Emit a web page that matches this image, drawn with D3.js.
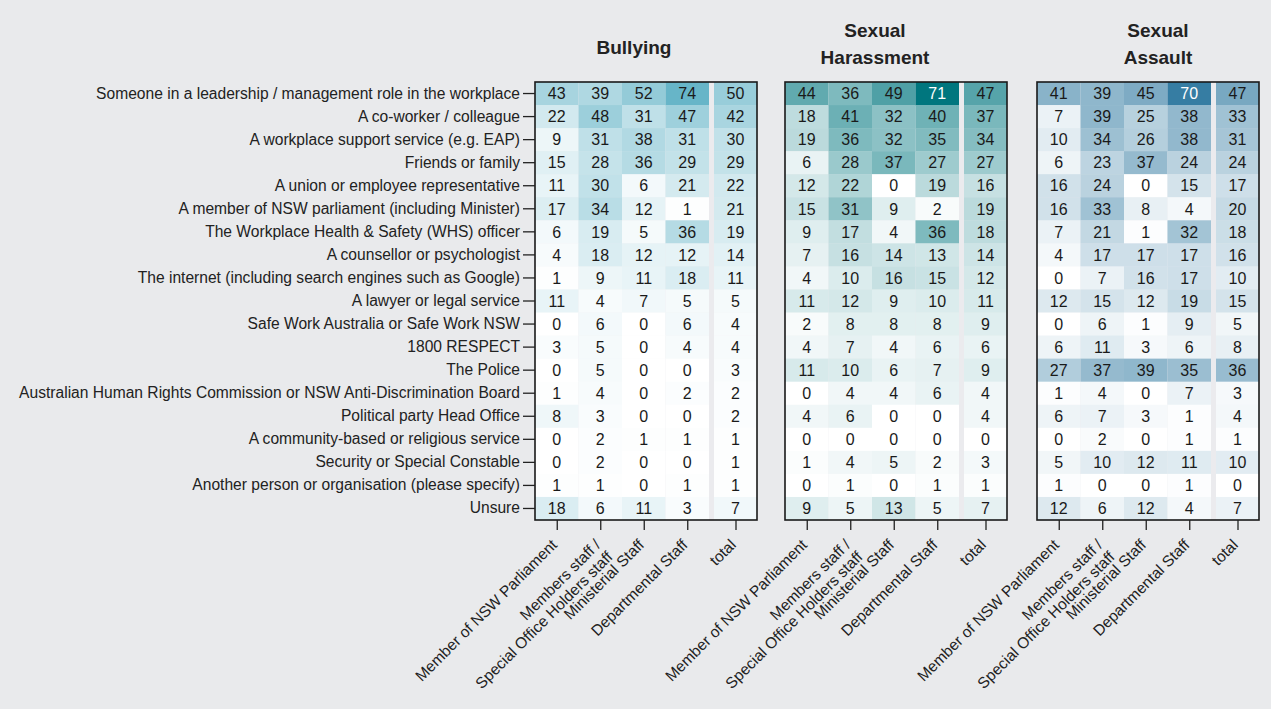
<!DOCTYPE html>
<html>
<head>
<meta charset="utf-8">
<script src="https://cdn.jsdelivr.net/npm/d3@7"></script>
<style>
  body { margin: 0; background: #e9eaec; }
  svg { display: block; font-family: "Liberation Sans", Arial, sans-serif; }
  .axis text { font-size: 15.6px; fill: #222; }
  .x-axis text { font-size: 15.5px; }
  .axis line { stroke: #222; stroke-width: 1.3; }
  .cell-label { font-size: 16px; }
  .panel-title { font-size: 19px; font-weight: bold; fill: #222; }
</style>
</head>
<body>
<div id="chart"></div>
<script>
// sources of support (rows)
var sources = [
    "Someone in a leadership / management role in the workplace",
    "A co-worker / colleague",
    "A workplace support service (e.g. EAP)",
    "Friends or family",
    "A union or employee representative",
    "A member of NSW parliament (including Minister)",
    "The Workplace Health & Safety (WHS) officer",
    "A counsellor or psychologist",
    "The internet (including search engines such as Google)",
    "A lawyer or legal service",
    "Safe Work Australia or Safe Work NSW",
    "1800 RESPECT",
    "The Police",
    "Australian Human Rights Commission or NSW Anti-Discrimination Board",
    "Political party Head Office",
    "A community-based or religious service",
    "Security or Special Constable",
    "Another person or organisation (please specify)",
    "Unsure"
];

// respondent groups (columns)
var columns = [
    "Member of NSW Parliament",
    "Members staff / Special Office Holders staff",
    "Ministerial Staff",
    "Departmental Staff",
    "total"
];
var columnLines = [
    ["Member of NSW Parliament"],
    ["Members staff /", "Special Office Holders staff"],
    ["Ministerial Staff"],
    ["Departmental Staff"],
    ["total"]
];

var panels = ["Bullying", "Sexual Harassment", "Sexual Assault"];
var panelTitles = [["Bullying"], ["Sexual", "Harassment"], ["Sexual", "Assault"]];

// % values, one row per source, columns as above
var bullying = [
    [43, 39, 52, 74, 50],
    [22, 48, 31, 47, 42],
    [9, 31, 38, 31, 30],
    [15, 28, 36, 29, 29],
    [11, 30, 6, 21, 22],
    [17, 34, 12, 1, 21],
    [6, 19, 5, 36, 19],
    [4, 18, 12, 12, 14],
    [1, 9, 11, 18, 11],
    [11, 4, 7, 5, 5],
    [0, 6, 0, 6, 4],
    [3, 5, 0, 4, 4],
    [0, 5, 0, 0, 3],
    [1, 4, 0, 2, 2],
    [8, 3, 0, 0, 2],
    [0, 2, 1, 1, 1],
    [0, 2, 0, 0, 1],
    [1, 1, 0, 1, 1],
    [18, 6, 11, 3, 7]
];
var harassment = [
    [44, 36, 49, 71, 47],
    [18, 41, 32, 40, 37],
    [19, 36, 32, 35, 34],
    [6, 28, 37, 27, 27],
    [12, 22, 0, 19, 16],
    [15, 31, 9, 2, 19],
    [9, 17, 4, 36, 18],
    [7, 16, 14, 13, 14],
    [4, 10, 16, 15, 12],
    [11, 12, 9, 10, 11],
    [2, 8, 8, 8, 9],
    [4, 7, 4, 6, 6],
    [11, 10, 6, 7, 9],
    [0, 4, 4, 6, 4],
    [4, 6, 0, 0, 4],
    [0, 0, 0, 0, 0],
    [1, 4, 5, 2, 3],
    [0, 1, 0, 1, 1],
    [9, 5, 13, 5, 7]
];
var assault = [
    [41, 39, 45, 70, 47],
    [7, 39, 25, 38, 33],
    [10, 34, 26, 38, 31],
    [6, 23, 37, 24, 24],
    [16, 24, 0, 15, 17],
    [16, 33, 8, 4, 20],
    [7, 21, 1, 32, 18],
    [4, 17, 17, 17, 16],
    [0, 7, 16, 17, 10],
    [12, 15, 12, 19, 15],
    [0, 6, 1, 9, 5],
    [6, 11, 3, 6, 8],
    [27, 37, 39, 35, 36],
    [1, 4, 0, 7, 3],
    [6, 7, 3, 1, 4],
    [0, 2, 0, 1, 1],
    [5, 10, 12, 11, 10],
    [1, 0, 0, 1, 0],
    [12, 6, 12, 4, 7]
];
var panelData = [bullying, harassment, assault];
var panelColors = ["#67b5c8", "#00767e", "#367da3"];

var width = 1271, height = 709;
var panelLeft = [535, 785, 1037];
var panelWidth = 222;
var titleOffset = [99, 90, 121];
var gridTop = 82, gridBottom = 520;

var svg = d3.select("#chart").append("svg")
    .attr("width", width)
    .attr("height", height);

svg.append("rect")
    .attr("width", width)
    .attr("height", height)
    .attr("fill", "#e9eaec");

var y = d3.scaleBand()
    .domain(sources)
    .range([gridTop, gridBottom]);

var xMain = d3.scaleBand()
    .domain(columns.slice(0, 4))
    .range([0, 174]);
var xTotal = d3.scaleBand()
    .domain(["total"])
    .range([179, panelWidth]);

function colX(c) { return c == "total" ? xTotal(c) : xMain(c); }
function colW(c) { return c == "total" ? xTotal.bandwidth() : xMain.bandwidth(); }

var xTicks = d3.scaleOrdinal()
    .domain(columns)
    .range(columns.map(function(c) { return colX(c) + colW(c) / 2; }));

panels.forEach(function(name, p) {
    var data = panelData[p];
    var max = d3.max(data, function(r) { return d3.max(r); });
    var color = d3.scaleLinear()
        .domain([0, max])
        .range(["#ffffff", panelColors[p]]);

    var cells = [];
    data.forEach(function(row, i) {
        row.forEach(function(v, j) {
            cells.push({source: sources[i], column: columns[j], value: v});
        });
    });

    var g = svg.append("g")
        .attr("transform", "translate(" + panelLeft[p] + ",0)");

    // title
    var title = g.append("text")
        .attr("class", "panel-title")
        .attr("text-anchor", "middle")
        .attr("x", titleOffset[p])
        .attr("y", panelTitles[p].length == 1 ? 54 : 37);
    title.selectAll("tspan")
        .data(panelTitles[p])
        .enter().append("tspan")
        .attr("x", titleOffset[p])
        .attr("dy", function(d, i) { return i == 0 ? 0 : 26.5; })
        .text(function(d) { return d; });

    g.append("rect")
        .attr("y", gridTop)
        .attr("width", panelWidth)
        .attr("height", gridBottom - gridTop)
        .attr("fill", "#ebebee");

    g.selectAll(".cell")
        .data(cells)
        .enter().append("rect")
        .attr("class", "cell")
        .attr("x", function(d) { return colX(d.column); })
        .attr("y", function(d) { return y(d.source); })
        .attr("width", function(d) { return colW(d.column); })
        .attr("height", y.bandwidth() + 0.3)
        .attr("fill", function(d) { return color(d.value); });

    g.selectAll(".cell-label")
        .data(cells)
        .enter().append("text")
        .attr("class", "cell-label")
        .attr("text-anchor", "middle")
        .attr("x", function(d) { return colX(d.column) + colW(d.column) / 2; })
        .attr("y", function(d) { return y(d.source) + y.bandwidth() / 2; })
        .attr("dy", "0.36em")
        .attr("fill", function(d) {
            return d3.lab(color(d.value)).l < 55 ? "#ffffff" : "#1a1a1a";
        })
        .text(function(d) { return d.value; });

    g.append("rect")
        .attr("y", gridTop)
        .attr("width", panelWidth)
        .attr("height", gridBottom - gridTop)
        .attr("fill", "none")
        .attr("stroke", "#1a1a1a")
        .attr("stroke-width", 1.6);

    // x axis with rotated, wrapped labels
    var xAxis = g.append("g")
        .attr("class", "axis x-axis")
        .attr("transform", "translate(0," + gridBottom + ")")
        .call(d3.axisBottom(xTicks).tickSize(10).tickSizeOuter(0));
    xAxis.select(".domain").remove();
    xAxis.selectAll(".tick text").remove();
    xAxis.selectAll(".tick").each(function(d) {
        var lines = columnLines[columns.indexOf(d)];
        var t = d3.select(this).append("text")
            .attr("text-anchor", "end")
            .attr("transform", "translate(-3,22) rotate(-45)")
            .attr("fill", "#222");
        t.selectAll("tspan")
            .data(lines)
            .enter().append("tspan")
            .attr("x", 0)
            .attr("y", function(l, i) { return i * 17; })
            .attr("dy", "0.35em")
            .text(function(l) { return l; });
    });

    if (p == 0) {
        var yAxis = g.append("g")
            .attr("class", "axis y-axis")
            .call(d3.axisLeft(y).tickSize(12).tickPadding(3).tickSizeOuter(0));
        yAxis.select(".domain").remove();
    }
});
</script>
</body>
</html>
